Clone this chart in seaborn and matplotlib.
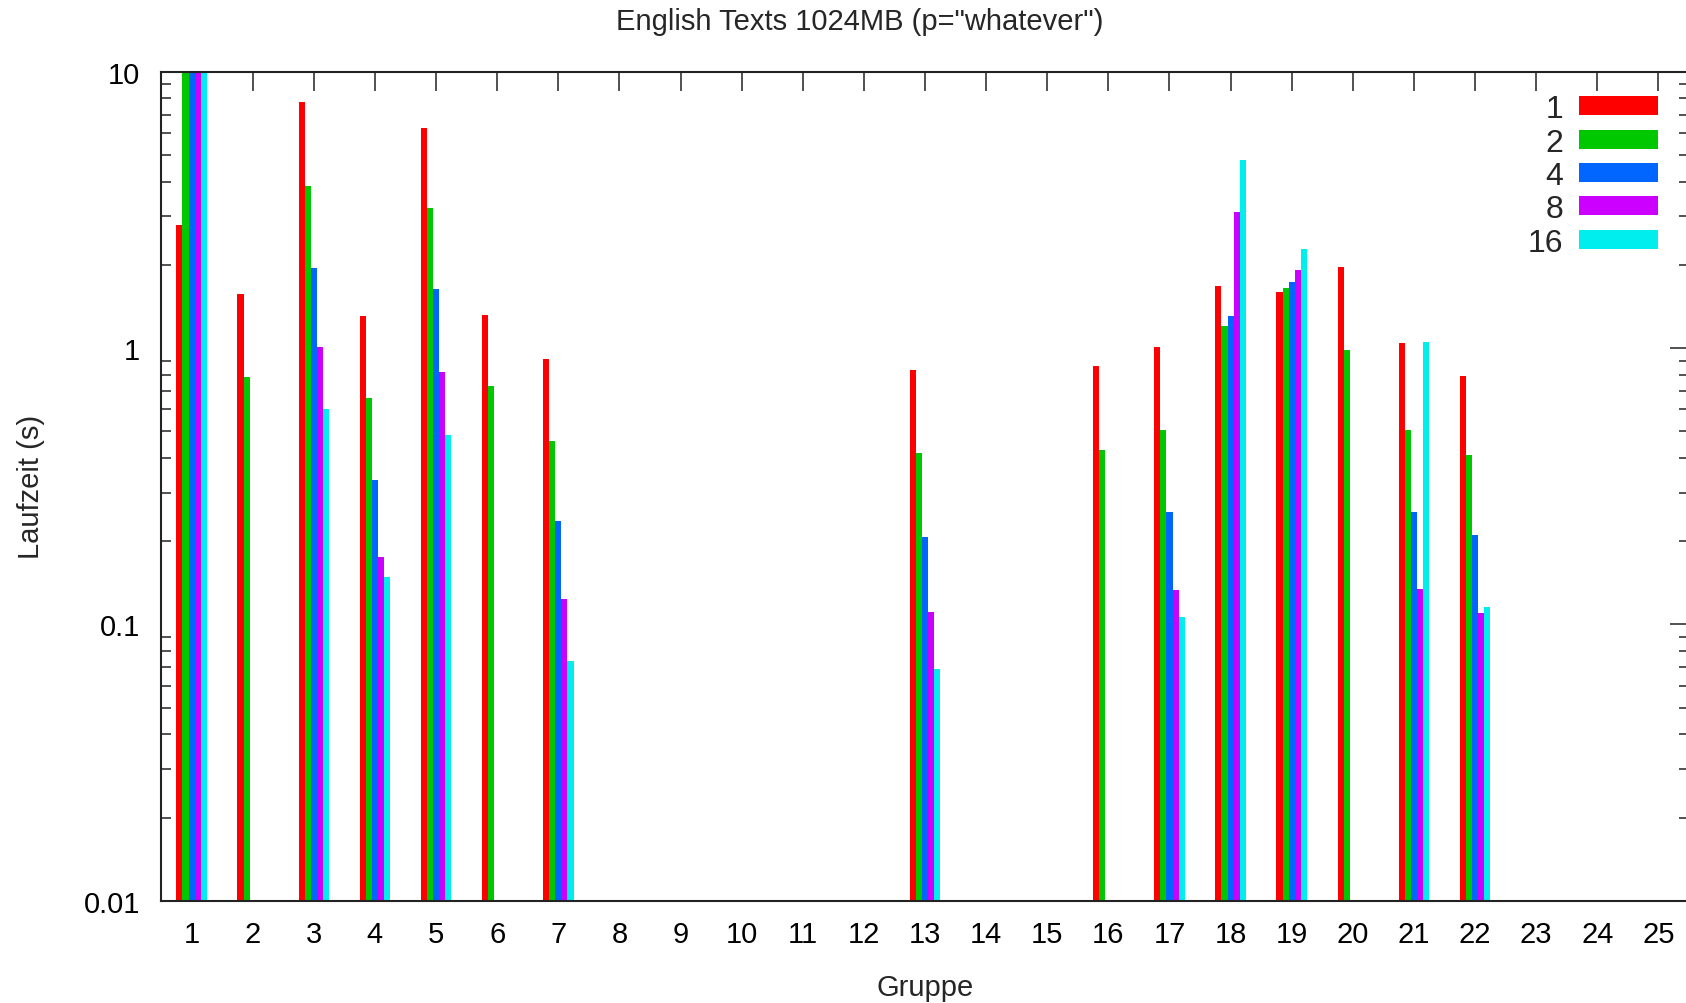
import numpy as np
import pandas as pd
import matplotlib
matplotlib.use("Agg")
import matplotlib.pyplot as plt
import matplotlib.transforms as mtransforms
import seaborn as sns
from matplotlib.ticker import LogLocator, FixedLocator, NullFormatter

nan = np.nan
groups = list(range(1, 26))
series = ["1", "2", "4", "8", "16"]
colors = ["#ff0000", "#00c800", "#0066ff", "#cc00ff", "#00eeee"]

v1  = [2.79, 1.57, 7.75, 1.31, 6.25, 1.32, 0.91, nan, nan, nan, nan, nan, 0.833, nan, nan, 0.861, 1.008, 1.68, 1.60, 1.96, 1.04, 0.794, nan, nan, nan]
v2  = [15.0, 0.783, 3.87, 0.659, 3.22, 0.731, 0.462, nan, nan, nan, nan, nan, 0.416, nan, nan, 0.426, 0.506, 1.205, 1.644, 0.983, 0.505, 0.410, nan, nan, nan]
v4  = [15.0, nan, 1.95, 0.333, 1.635, nan, 0.237, nan, nan, nan, nan, nan, 0.2075, nan, nan, nan, 0.2556, 1.309, 1.73, nan, 0.2556, 0.211, nan, nan, nan]
v8  = [15.0, nan, 1.01, 0.176, 0.817, nan, 0.1232, nan, nan, nan, nan, nan, 0.1105, nan, nan, nan, 0.1334, 3.10, 1.916, nan, 0.134, 0.1096, nan, nan, nan]
v16 = [15.0, nan, 0.601, 0.1487, 0.484, nan, 0.0738, nan, nan, nan, nan, nan, 0.0689, nan, nan, nan, 0.106, 4.80, 2.28, nan, 1.048, 0.116, nan, nan, nan]

rows = []
for s, vals in zip(series, [v1, v2, v4, v8, v16]):
    for g, v in zip(groups, vals):
        rows.append({"Gruppe": str(g), "Threads": s, "Laufzeit": v})
df = pd.DataFrame(rows)

sns.set_theme(style="white")
plt.rcParams["font.family"] = ["Liberation Sans", "DejaVu Sans"]
FS = 21

W, H = 1686, 1004
fig = plt.figure(figsize=(W / 100, H / 100), dpi=100)
left, right, top, bottom = 161, 1689, 72.7, 901.7
ax = fig.add_axes([left / W, 1 - bottom / H, (right - left) / W, (bottom - top) / H])

sns.barplot(data=df, x="Gruppe", y="Laufzeit", hue="Threads",
            order=[str(g) for g in groups], hue_order=series,
            palette=colors, width=0.5, errorbar=None, linewidth=0,
            saturation=1, ax=ax)

ax.set_yscale("log")
ax.set_ylim(0.01, 10)
ax.set_xlim(-0.5, 24.5)

edge = "#222222"
for sp in ax.spines.values():
    sp.set_visible(True)
    sp.set_color(edge)
    sp.set_linewidth(1.5)

ax.yaxis.set_major_locator(FixedLocator([0.01, 0.1, 1, 10]))
ax.set_yticklabels(["0.01", "0.1", "1", "10"])
ax.yaxis.set_minor_locator(LogLocator(base=10, subs=np.arange(2, 10)))
ax.yaxis.set_minor_formatter(NullFormatter())
ax.tick_params(axis="both", which="major", direction="in", length=14, width=1.1,
               color=edge, labelsize=FS, top=True, right=True, labelcolor="black")
ax.tick_params(axis="y", which="minor", direction="in", length=7, width=1.1,
               color=edge, left=True, right=True)
ax.tick_params(axis="y", which="major", pad=15)
ax.tick_params(axis="x", which="major", pad=14)

ax.set_xlabel("Gruppe", fontsize=FS, labelpad=18)
ax.set_ylabel("Laufzeit (s)", fontsize=FS, labelpad=28)
fig.text(860 / W, 1 - 21.5 / H, 'English Texts 1024MB (p="whatever")',
         fontsize=FS, ha="center", va="center")

leg = ax.legend(loc="upper right", bbox_to_anchor=(1657.7 / W, 1 - 95 / H),
                bbox_transform=fig.transFigure, frameon=False, markerfirst=False,
                fontsize=FS, handlelength=2.69, handleheight=0.62,
                handletextpad=0.6, labelspacing=0.185, borderpad=0, borderaxespad=0)
for t in leg.get_texts():
    t.set_color("none")
fig.canvas.draw()
renderer = fig.canvas.get_renderer()
ident = mtransforms.IdentityTransform()
for t, h in zip(leg.get_texts(), leg.legend_handles):
    hb = h.get_window_extent(renderer)
    fig.text(hb.x0 - 16, 0.5 * (hb.y0 + hb.y1), t.get_text(), transform=ident,
             fontsize=FS + 2, ha="right", va="center_baseline")

fig.savefig("out.png", dpi=100)
